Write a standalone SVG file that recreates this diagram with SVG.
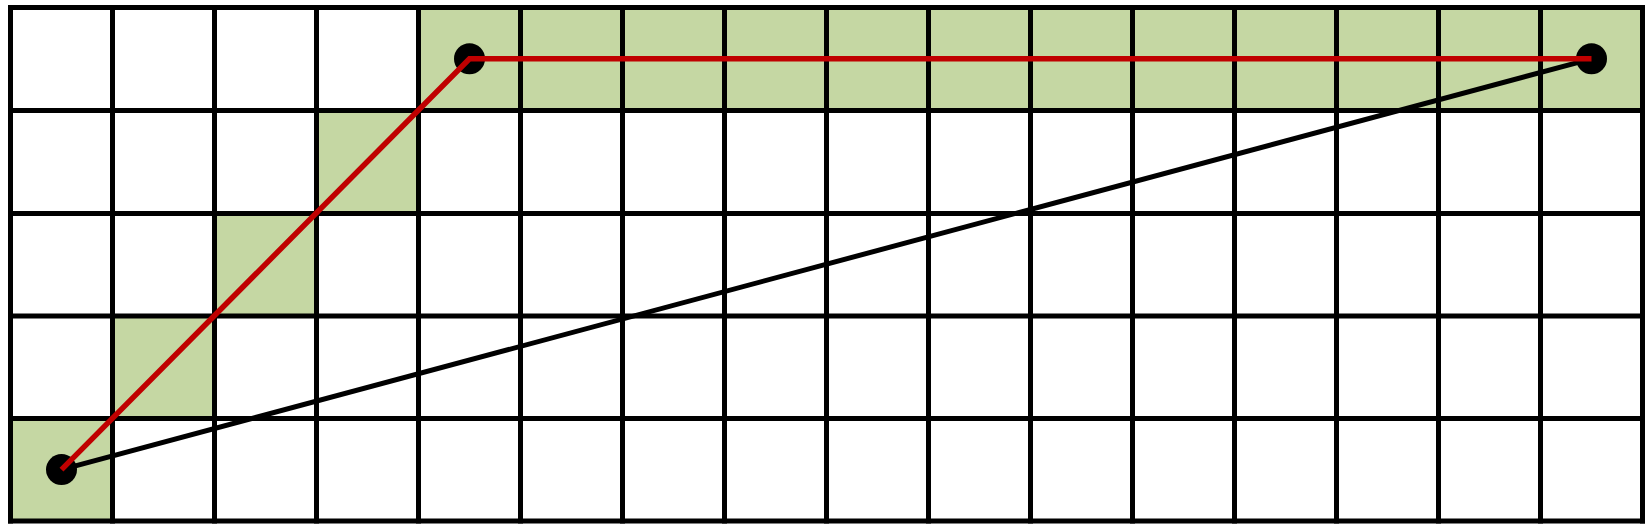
<svg xmlns="http://www.w3.org/2000/svg" width="1652" height="530" viewBox="0 0 1652 530">
<style>
.cell{fill:#C5D7A3;stroke:none}
.grid{stroke:#000;stroke-width:5;fill:none;stroke-linecap:square}
.dot{fill:#000}
.blk{stroke:#000;stroke-width:5;fill:none}
.red{stroke:#C00000;stroke-width:5.5;fill:none;stroke-linejoin:miter}
</style>
<rect width="1652" height="530" fill="#fff"/>
<g id="cells">
<rect class="cell" x="418.5" y="7.5" width="1224" height="103"/>
<rect class="cell" x="316.5" y="110.5" width="102" height="103"/>
<rect class="cell" x="214.5" y="213.5" width="102" height="102.5"/>
<rect class="cell" x="112.5" y="316" width="102" height="102.5"/>
<rect class="cell" x="10.5" y="418.5" width="102" height="102.5"/>
</g>
<g id="grid" class="grid">
<path d="M10.5 7.5V521M112.5 7.5V521M214.5 7.5V521M316.5 7.5V521M418.5 7.5V521M520.5 7.5V521M622.5 7.5V521M724.5 7.5V521M826.5 7.5V521M928.5 7.5V521M1030.5 7.5V521M1132.5 7.5V521M1234.5 7.5V521M1336.5 7.5V521M1438.5 7.5V521M1540.5 7.5V521M1642.5 7.5V521"/>
<path d="M10.5 7.5H1642.5M10.5 110.5H1642.5M10.5 213.5H1642.5M10.5 316H1642.5M10.5 418.5H1642.5M10.5 521H1642.5"/>
</g>
<g id="node-a"><circle class="dot" cx="61.5" cy="469.6" r="15.5"/></g>
<g id="node-b"><circle class="dot" cx="469.5" cy="58.8" r="15.5"/></g>
<g id="node-c"><circle class="dot" cx="1591.5" cy="58.8" r="15.5"/></g>
<g id="connectors">
<path class="blk" d="M61.5 469.6L1591.5 58.8"/>
<path class="red" d="M61.5 469.6L469.5 58.8H1591.5"/>
</g>
</svg>
